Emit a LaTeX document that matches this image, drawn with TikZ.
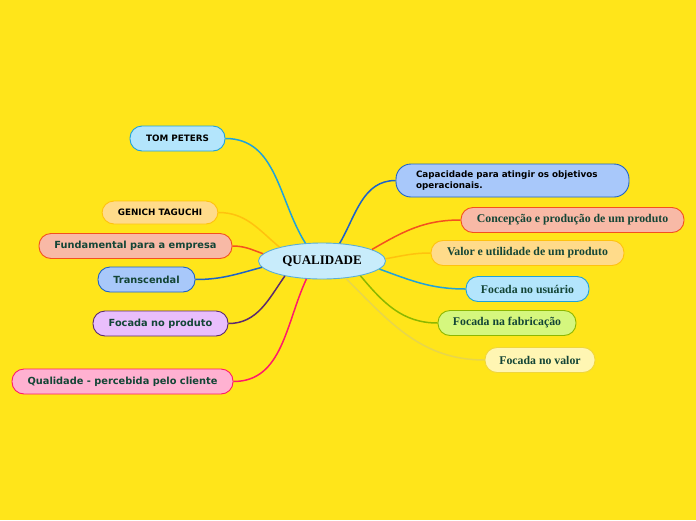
\documentclass[tikz,border=0pt]{standalone}
\usepackage{fontspec}
\setmainfont{Liberation Serif}
\setsansfont{DejaVu Sans}
\usepackage{xcolor}
\usetikzlibrary{shapes.geometric}

\definecolor{bgYellow}{HTML}{FFE51A}
\definecolor{leafText}{HTML}{134536}
\definecolor{rootF}{HTML}{C8ECFB}
\definecolor{rootD}{HTML}{5AAED6}
\definecolor{cyanF}{HTML}{B3E5FC}
\definecolor{cyanD}{HTML}{1FA2DB}
\definecolor{amberF}{HTML}{FFDB8A}
\definecolor{amberD}{HTML}{FFC20E}
\definecolor{coralF}{HTML}{F8B9A6}
\definecolor{coralD}{HTML}{F4511E}
\definecolor{blueF}{HTML}{A8C8FA}
\definecolor{blueD}{HTML}{1E63C8}
\definecolor{violetF}{HTML}{E9BEFC}
\definecolor{violetD}{HTML}{5C2A6E}
\definecolor{pinkF}{HTML}{FFB1D1}
\definecolor{pinkD}{HTML}{FF1A6A}
\definecolor{limeF}{HTML}{D5F77E}
\definecolor{limeD}{HTML}{8DB700}
\definecolor{creamF}{HTML}{FFF6B3}
\definecolor{creamD}{HTML}{F0D63C}
\definecolor{creamL}{HTML}{E8D64A}

\begin{document}
\begin{tikzpicture}[
    x=1pt, y=1pt,
    pill/.style={rounded corners=12pt, line width=0.9pt, minimum height=25pt, inner sep=0pt, align=center},
    capslbl/.style={pill, font=\sffamily\bfseries\fontsize{8.8}{11}\selectfont, text=black},
    sanslbl/.style={pill, font=\sffamily\bfseries\fontsize{9.8}{12}\selectfont, text=leafText},
    seriflbl/.style={pill, font=\rmfamily\bfseries\fontsize{11.8}{14}\selectfont, text=leafText},
    link/.style={line width=1.5pt}
]

% background
\fill[bgYellow] (0,0) rectangle (696,-520);

% central topic
\node[ellipse, draw=rootD, fill=rootF, line width=0.9pt, minimum width=127pt, minimum height=36pt, inner sep=0pt,
      font=\rmfamily\bfseries\fontsize{13}{15}\selectfont] (q) at (322,-261) {QUALIDADE};

% left branches
\node[capslbl, fill=cyanF, draw=cyanD, minimum width=95pt] (tom) at (177.5,-138.5) {TOM PETERS};
\node[capslbl, fill=amberF, draw=amberD, minimum width=116pt, minimum height=23pt] (taguchi) at (160,-212.5) {GENICH TAGUCHI};
\node[sanslbl, fill=coralF, draw=coralD, minimum width=193pt] (empresa) at (135.5,-246) {Fundamental para a empresa};
\node[sanslbl, fill=blueF, draw=blueD, minimum width=97pt] (transc) at (146.5,-279.5) {Transcendal};
\node[sanslbl, fill=violetF, draw=violetD, minimum width=135pt] (produto) at (160.5,-323.5) {Focada no produto};
\node[sanslbl, fill=pinkF, draw=pinkD, minimum width=221pt] (cliente) at (122.5,-381.5) {Qualidade - percebida pelo cliente};

% right branches
\node[capslbl, fill=blueF, draw=blueD, rounded corners=15pt, minimum height=33pt, text width=193pt, align=left,
      inner xsep=20pt, font=\sffamily\bfseries\fontsize{8.8}{11.5}\selectfont] (capac) at (512.5,-180.5)
      {Capacidade para atingir os objetivos\\operacionais.};
\node[seriflbl, fill=coralF, draw=coralD, minimum width=223pt] (concep) at (572.5,-220) {Concepção e produção de um produto};
\node[seriflbl, fill=amberF, draw=amberD, minimum width=193pt] (utilid) at (527.5,-253) {Valor e utilidade de um produto};
\node[seriflbl, fill=cyanF, draw=cyanD, minimum width=123pt] (usuario) at (527.5,-289) {Focada no usuário};
\node[seriflbl, fill=limeF, draw=limeD, minimum width=138pt] (fabric) at (507,-323) {Focada na fabricação};
\node[seriflbl, fill=creamF, draw=creamD, minimum width=110pt] (valor) at (540,-360) {Focada no valor};

% connectors
\draw[link, cyanD] (q.133) to[out=122, in=0] (tom.east);
\draw[link, amberD] (q.162) to[out=140, in=0] (taguchi.east);
\draw[link, coralD] (q.173) to[out=160, in=0] (empresa.east);
\draw[link, blueD] (q.186) to[out=195, in=0] (transc.east);
\draw[link, violetD] (q.202) to[out=235, in=0] (produto.east);
\draw[link, pinkD] (q.229) to[out=245, in=0] (cliente.east);

\draw[link, blueD] (q.45) to[out=60, in=180] (capac.west);
\draw[link, coralD] (q.13) to[out=30, in=180] (concep.west);
\draw[link, amberD] (q.2) to[out=10, in=180] (utilid.west);
\draw[link, cyanD] (q.352) to[out=-20, in=180] (usuario.west);
\draw[link, limeD] (q.339) to[out=-50, in=180] (fabric.west);
\draw[link, creamL] (q.324) to[out=-45, in=180] (valor.west);

\end{tikzpicture}
\end{document}
